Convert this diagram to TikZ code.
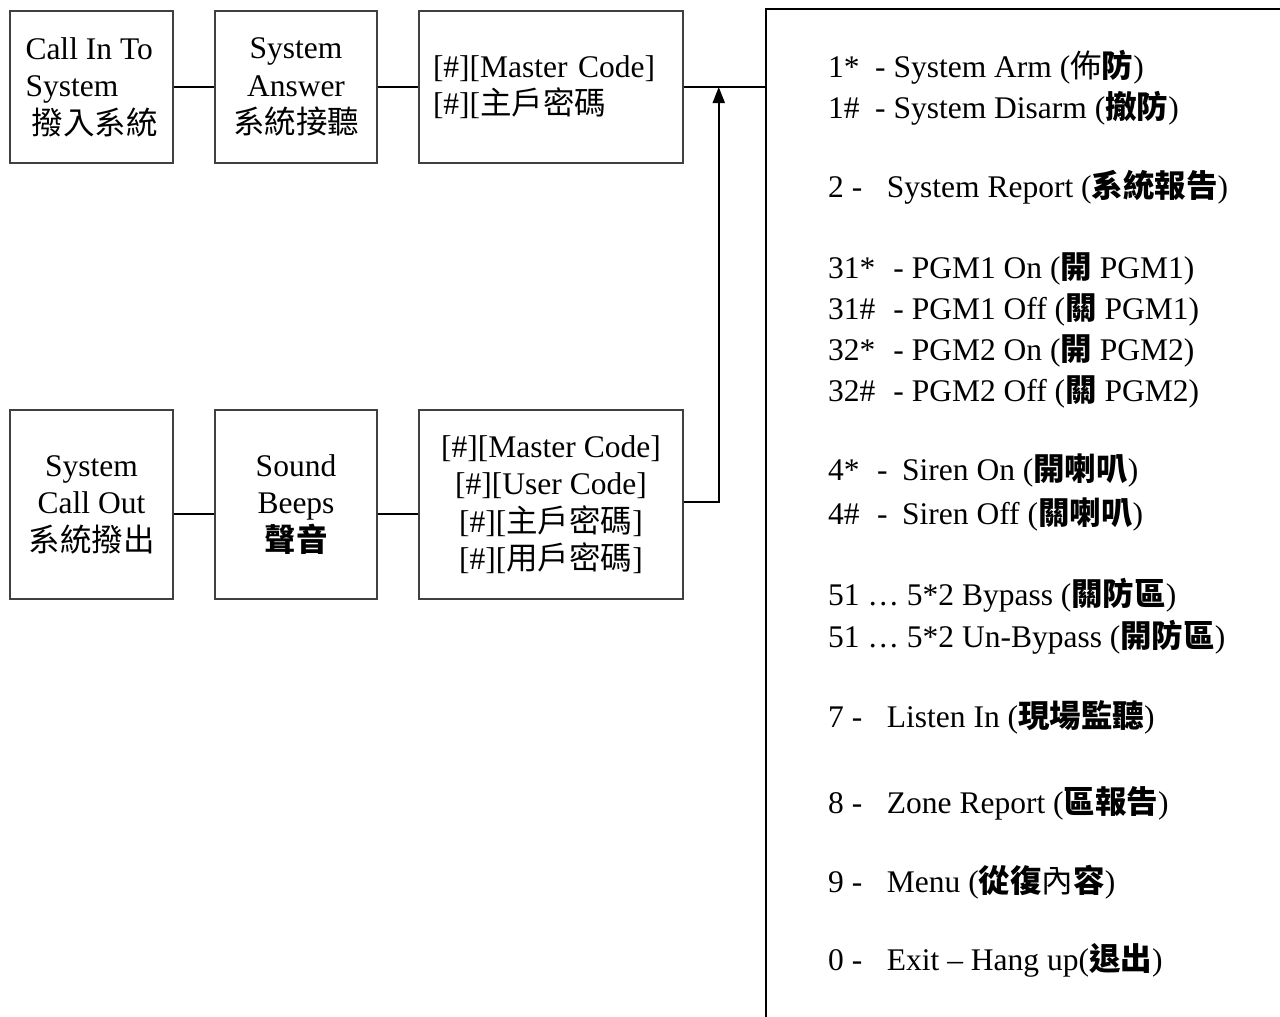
\documentclass[tikz,border=0pt]{standalone}
\usepackage{fontspec}
\setmainfont{Liberation Serif}
\newfontfamily\cjk{Noto Sans CJK TC}
\newcommand\zhr[1]{{\cjk #1}}
\newcommand\zhb[1]{{\cjk\bfseries #1}}
\newcommand\gp[1]{\hspace{#1pt}}
\usetikzlibrary{arrows.meta}
\begin{document}
\begin{tikzpicture}[x=1pt,y=-1pt,
  box/.style={draw=black!75, line width=1.5pt, inner sep=0pt, align=center,
    font=\fontsize{31.5}{37.5}\selectfont},
  topbox/.style={box, minimum height=152pt},
  lowbox/.style={box, minimum height=189pt},
  conn/.style={line width=1.5pt, black},
  arrowline/.style={line width=2pt, black, -{Triangle[length=16pt,width=12pt]}},
  item/.style={anchor=base west, inner sep=0pt, font=\fontsize{31.5}{37}\selectfont}]
\useasboundingbox (0,0) rectangle (1280,1017);
\clip (0,0) rectangle (1280,1017);
\fill[white] (0,0) rectangle (1280,1017);
% upper row
\node[topbox, minimum width=163pt, align=left] (b1) at (91.5,87)
  {Call In To\\System\\\hspace*{6pt}\zhr{撥入系統}};
\node[topbox, minimum width=162pt] (b2) at (296,87) {System\\Answer\\\zhr{系統接聽}};
\node[topbox, minimum width=264pt, align=left, text width=236pt] (b3) at (551,87)
  {{[}\#][Master Code]\\{[}\#][\zhr{主戶密碼}};
% lower row
\node[lowbox, minimum width=163pt] (b4) at (91.5,504.5) {System\\Call Out\\\zhr{系統撥出}};
\node[lowbox, minimum width=162pt] (b5) at (296,504.5) {Sound\\Beeps\\\zhb{聲音}};
\node[lowbox, minimum width=264pt] (b6) at (551,504.5)
  {{[}\#][Master Code]\\{[}\#][User Code]\\{[}\#][\zhr{主戶密碼}]\\{[}\#][\zhr{用戶密碼}]};
% menu box (open to the right and bottom)
\node[draw=black, line width=2pt, minimum width=600pt, minimum height=1100pt,
  anchor=north west, inner sep=0pt] (menu) at (765,8) {};
% connectors
\draw[conn] (b1) -- (b2);
\draw[conn] (b2) -- (b3);
\draw[conn] (b3.east) -- (b3.east -| menu.west);
\draw[conn] ([yshift=-9.5pt]b4.east) -- ([yshift=-9.5pt]b5.west);
\draw[conn] ([yshift=-9.5pt]b5.east) -- ([yshift=-9.5pt]b6.west);
\draw[arrowline] ([yshift=2.5pt]b6.east) -- ++(35,0) coordinate (j) -- (j |- b3.east);
% menu items
\node[item] (m1) at (828,77) {1*\gp{15.5}-\ System Arm (\zhr{佈}\zhb{防})};
\node[item] (m2) at (828,118) {1\#\gp{15.5}-\ System Disarm (\zhb{撤防})};
\node[item] (m3) at (828,197) {2\gp{8}-\gp{24.5}System Report (\zhb{系統報告})};
\node[item] (m4) at (828,278) {31*\gp{18}-\ PGM1 On (\zhb{開} PGM1)};
\node[item] (m5) at (828,319) {31\#\gp{18}-\ PGM1 Off (\zhb{關} PGM1)};
\node[item] (m6) at (828,360) {32*\gp{18}-\ PGM2 On (\zhb{開} PGM2)};
\node[item] (m7) at (828,401) {32\#\gp{18}-\ PGM2 Off (\zhb{關} PGM2)};
\node[item] (m8) at (828,480) {4*\gp{17.5}-\gp{14.5}Siren On (\zhb{開喇叭})};
\node[item] (m9) at (828,524) {4\#\gp{17.5}-\gp{14.5}Siren Off (\zhb{關喇叭})};
\node[item] (m10) at (828,605) {51 … 5*2 Bypass (\zhb{關防區})};
\node[item] (m11) at (828,647) {51 … 5*2 Un-Bypass (\zhb{開防區})};
\node[item] (m12) at (828,727) {7\gp{8}-\gp{24.5}Listen In (\zhb{現場監聽})};
\node[item] (m13) at (828,813) {8\gp{8}-\gp{24.5}Zone Report (\zhb{區報告})};
\node[item] (m14) at (828,892) {9\gp{8}-\gp{24.5}Menu (\zhb{從復}\zhr{內}\zhb{容})};
\node[item] (m15) at (828,970) {0\gp{8}-\gp{24.5}Exit – Hang up(\zhb{退出})};
\end{tikzpicture}
\end{document}
